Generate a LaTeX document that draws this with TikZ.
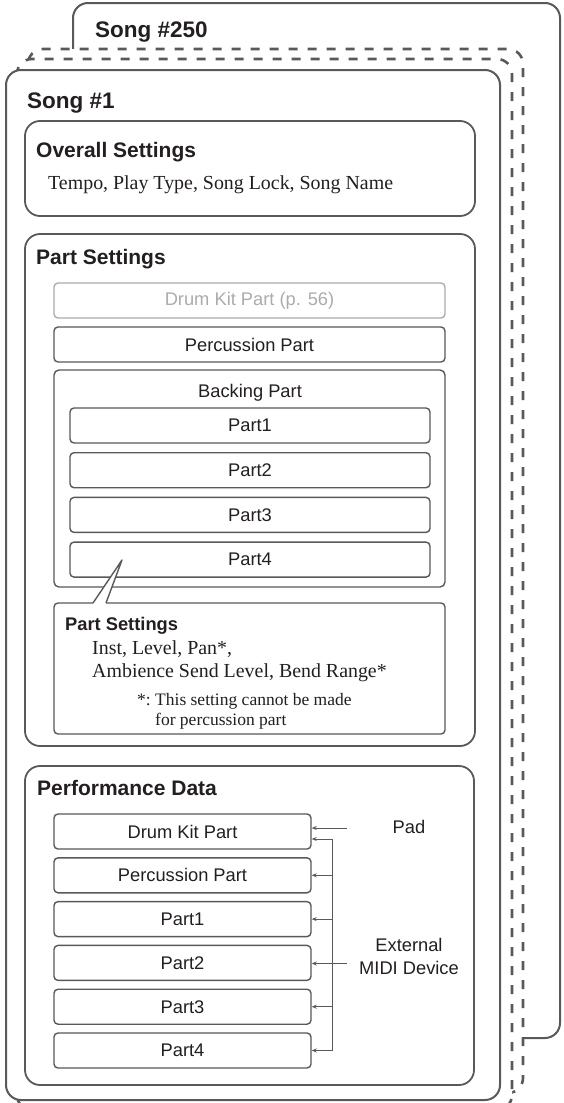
\documentclass[tikz,border=0pt]{standalone}
\usepackage{fontspec}
\setmainfont{Liberation Serif}
\setsansfont{Liberation Sans}
\usetikzlibrary{arrows.meta}
\definecolor{linegray}{RGB}{88,89,91}
\definecolor{palegray}{RGB}{172,172,172}
\definecolor{inktext}{RGB}{35,31,32}

\tikzset{
  songframe/.style={draw=linegray, line width=2pt, fill=white, rounded corners=15pt},
  ghostframe/.style={songframe, line width=2.6pt, dash pattern=on 9pt off 10pt},
  sectframe/.style={draw=linegray, line width=1.8pt, rounded corners=15pt},
  partbox/.style={draw=linegray, line width=1.4pt, rounded corners=4pt, fill=white,
    minimum height=35pt, inner sep=0pt, text=inktext, font=\fontsize{18.3}{22}\selectfont\sffamily},
  songhead/.style={anchor=base west, inner sep=0pt, text=inktext, font=\fontsize{22.5}{26}\selectfont\sffamily\bfseries},
  secthead/.style={songhead, font=\fontsize{21}{24}\selectfont\sffamily\bfseries},
  subhead/.style={songhead, font=\fontsize{18.3}{22}\selectfont\sffamily\bfseries},
  serifline/.style={anchor=base west, inner sep=0pt, text=inktext, font=\fontsize{19.9}{23}\selectfont\rmfamily},
  noteline/.style={serifline, font=\fontsize{17.5}{20}\selectfont\rmfamily},
  sidelabel/.style={inner sep=0pt, align=center, text=inktext, font=\fontsize{18.3}{23}\selectfont\sffamily},
  flow/.style={draw=linegray, line width=0.9pt, -{Stealth[length=5pt,width=4pt]}},
  bus/.style={draw=linegray, line width=0.9pt}
}

\begin{document}
\begin{tikzpicture}[x=1pt, y=-1pt]
  \useasboundingbox (0,0) rectangle (563,1103);

  % Canciones apiladas
  \draw[songframe] (73,3) rectangle (560,1038);
  \node[songhead] (songlast) at (95,37) {Song \#250};
  \draw[ghostframe] (28,49) rectangle (523,1093);
  \draw[ghostframe] (17,59) rectangle (512,1110);
  \draw[songframe] (6,70) rectangle (500,1100);
  \node[songhead] (songfirst) at (27,108) {Song \#1};

  % Ajustes generales
  \draw[sectframe] (25,121) rectangle (475,216);
  \node[secthead] (overhead) at (36,157) {Overall Settings};
  \node[serifline] (overtext) at (48,189) {Tempo, Play Type, Song Lock, Song Name};

  % Ajustes de partes
  \draw[sectframe] (25,234) rectangle (475,746);
  \node[secthead] (parthead) at (36,264) {Part Settings};
  \node[partbox, draw=palegray, text=palegray, minimum width=391pt] (kitset) at (249.5,300.5) {Drum Kit Part (p. 56)};
  \node[partbox, minimum width=391pt] (percset) at (249.5,344.5) {Percussion Part};
  \draw[draw=linegray, line width=1.4pt, rounded corners=5pt] (54,370) rectangle (445,587);
  \node[sidelabel] (backlabel) at (250,393) {Backing Part};
  \foreach \i in {1,...,4} {
    \node[partbox, minimum width=360pt] (bp\i) at (250,{425.5+(\i-1)*44.7}) {Part\i};
  }

  % Globo con los ajustes
  \node[partbox, minimum width=391pt, minimum height=131pt] (setbox) at (249.5,668.5) {};
  \coordinate (tip) at (122,560);
  \fill[white] (93,603) -- (tip) -- (106,603) -- (106,605.5) -- (93,605.5) -- cycle;
  \draw[draw=linegray, line width=1.4pt, line join=round] (93,603) -- (tip) -- (106,603);
  \node[subhead] (sethead) at (65,630) {Part Settings};
  \node[serifline] (setline1) at (92,654) {Inst, Level, Pan*,};
  \node[serifline] (setline2) at (92,677) {Ambience Send Level, Bend Range*};
  \node[noteline] (notemark) at (137,705) {*:};
  \node[noteline] (notetext1) at (155,705) {This setting cannot be made};
  \node[noteline] (notetext2) at (155,725) {for percussion part};

  % Datos de interpretacion
  \draw[sectframe] (25,766) rectangle (474,1085);
  \node[secthead] (perfhead) at (37,795) {Performance Data};
  \foreach \lbl [count=\i] in {Drum Kit Part, Percussion Part, Part1, Part2, Part3, Part4} {
    \node[partbox, minimum width=257pt] (pd\i) at (182.5,{831.5+(\i-1)*43.8}) {\lbl};
  }
  \node[sidelabel] (pad) at (409,827) {Pad};
  \node[sidelabel] (midi) at (409,956) {External\\MIDI Device};
  \coordinate (padin) at (347,828);
  \coordinate (midiin) at (347,963.5);
  \coordinate (bustop) at (332,839);
  \draw[flow] (padin) -- (padin -| pd1.east);
  \draw[bus] (bustop) -- (bustop |- pd6.east);
  \draw[flow] (bustop) -- (bustop -| pd1.east);
  \foreach \i in {2,3,5,6} {
    \draw[flow] (bustop |- pd\i.east) -- (pd\i.east);
  }
  \draw[flow] (midiin) -- (midiin -| pd4.east);
\end{tikzpicture}
\end{document}
